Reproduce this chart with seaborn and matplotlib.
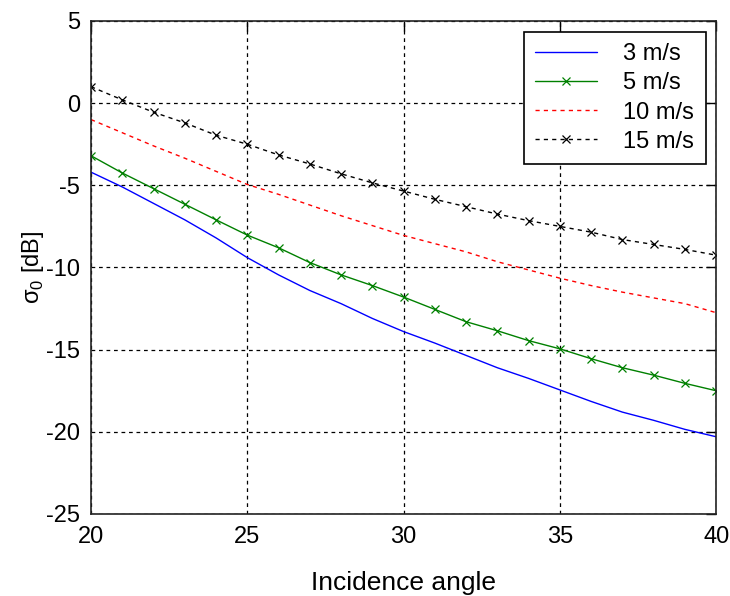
import numpy as np
import pandas as pd
import seaborn as sns
import matplotlib.pyplot as plt

# Data
angles = list(range(20, 41))
sigma_3 = [-4.2, -5.1, -6.1, -7.1, -8.2, -9.4, -10.45, -11.4, -12.2, -13.1, -13.9,
           -14.6, -15.35, -16.1, -16.75, -17.45, -18.15, -18.8, -19.3, -19.85, -20.3]
sigma_5 = [-3.2, -4.25, -5.2, -6.15, -7.1, -8.03, -8.8, -9.7, -10.45, -11.1, -11.8,
           -12.55, -13.3, -13.85, -14.45, -14.95, -15.55, -16.1, -16.55, -17.05, -17.5]
sigma_10 = [-1.0, -1.8, -2.6, -3.35, -4.15, -4.95, -5.55, -6.2, -6.85, -7.45, -8.05,
            -8.55, -9.05, -9.65, -10.15, -10.65, -11.1, -11.5, -11.85, -12.2, -12.75]
sigma_15 = [1.0, 0.2, -0.55, -1.2, -1.95, -2.5, -3.15, -3.7, -4.3, -4.85, -5.35,
            -5.85, -6.3, -6.75, -7.15, -7.5, -7.85, -8.3, -8.6, -8.9, -9.25]
labels = ['3 m/s', '5 m/s', '10 m/s', '15 m/s']

df = pd.DataFrame({'angle': angles * 4,
                   'sigma': sigma_3 + sigma_5 + sigma_10 + sigma_15,
                   'speed': np.repeat(labels, len(angles))})

styles = {'3 m/s': dict(color='#0000ff', ls='-', marker='None'),
          '5 m/s': dict(color='#008000', ls='-', marker='x'),
          '10 m/s': dict(color='#ff0000', ls=(0, (3, 3)), marker='None'),
          '15 m/s': dict(color='black', ls=(0, (3, 3)), marker='x')}

sns.set_style("white")
plt.rcParams['font.family'] = ['Liberation Sans', 'DejaVu Sans']
plt.rcParams['axes.unicode_minus'] = False
plt.rcParams['mathtext.fontset'] = 'custom'
plt.rcParams['mathtext.rm'] = 'Liberation Sans'
plt.rcParams['text.color'] = 'black'
plt.rcParams['axes.labelcolor'] = 'black'

fig, ax = plt.subplots(figsize=(7.3, 5.96), dpi=100)
fig.subplots_adjust(left=0.1247, right=0.981, top=0.9648, bottom=0.1376)

for lab in labels:
    st = styles[lab]
    sns.lineplot(data=df[df['speed'] == lab], x='angle', y='sigma', ax=ax,
                 color=st['color'], linewidth=1.0, label=lab)
    line = ax.lines[-1]
    line.set_linestyle(st['ls'])
    line.set_marker(st['marker'])
    line.set_markersize(6)
    line.set_markeredgewidth(0.9)
    line.set_markeredgecolor(st['color'])

ax.set_xlim(20, 40)
ax.set_ylim(-25, 5)
ax.set_xticks([20, 25, 30, 35, 40])
ax.set_yticks([-25, -20, -15, -10, -5, 0, 5])
ax.grid(True, color='black', linestyle=(0, (3, 3)), linewidth=0.9)
ax.tick_params(direction='in', length=7, width=1, top=True, right=True,
               labelsize=17, colors='black')
ax.tick_params(axis='x', pad=9)
ax.tick_params(axis='y', pad=8)
for s in ax.spines.values():
    s.set_color('#222222')
    s.set_linewidth(1.2)

ax.set_xlabel('Incidence angle', fontsize=19, labelpad=16)
ax.set_ylabel(r'σ$_0$ [dB]', fontsize=17, labelpad=0)

leg = ax.legend(loc='upper right', fontsize=17, frameon=True, fancybox=False,
                edgecolor='black', framealpha=1, handlelength=2.6, handletextpad=1.1,
                borderaxespad=0.45, labelspacing=0.3, borderpad=0.5, numpoints=1)
leg.get_frame().set_linewidth(1.2)

fig.savefig('out.png', dpi=100)
